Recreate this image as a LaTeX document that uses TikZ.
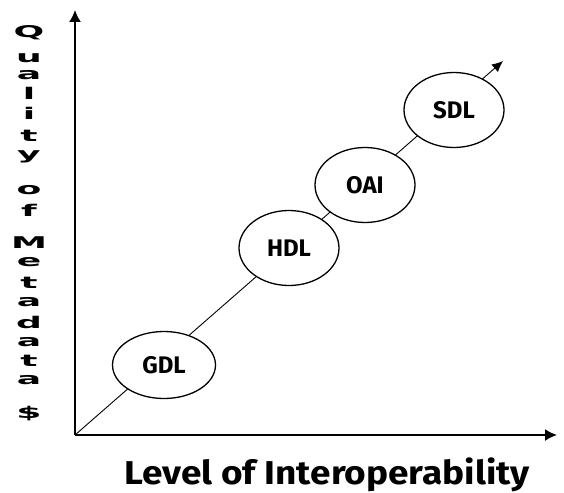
\documentclass[tikz,border=0pt]{standalone}
\usepackage{fontspec}
\setmainfont{Fira Sans}
\newfontfamily\heavyfont{DejaVu Sans}
\usetikzlibrary{positioning,shapes.geometric,arrows.meta}
\tikzset{
  stage/.style={ellipse, draw, line width=1.3pt, fill=white, minimum width=100pt, minimum height=75pt, inner sep=0pt, font=\fontsize{24}{26}\selectfont\bfseries},
  ylab/.style={inner sep=0pt, font=\heavyfont\fontsize{19}{19}\selectfont\bfseries}
}

\begin{document}
\begin{tikzpicture}[x=1pt, y=-1pt, >={Latex[length=12pt,width=12pt]}]
\useasboundingbox (0,0) rectangle (564,492);
% axes
\coordinate (o) at (75,435);
\coordinate (ytop) at (75,10);
\coordinate (xend) at (557,435);
\coordinate (tip) at (503,61);
\draw[->, line width=1.6pt] (o) -- (ytop);
\draw[->, line width=1.6pt] (o) -- (xend);
\draw[->, >={Latex[length=11pt,width=10pt]}, line width=0.9pt] (o) -- (tip);

% stages
\node[stage, minimum width=103pt, minimum height=67pt] (gdl) at (164,365) {GDL};
\node[stage] (hdl) at (289,248) {HDL};
\node[stage] (oai) at (365,185) {OAI};
\node[stage] (sdl) at (454,110) {SDL};

% labels
\node[anchor=base, inner sep=0pt, font=\fontsize{33}{33}\selectfont\bfseries] (xlab) at (327,484) {\scalebox{1.12}[1]{Level of Interoperability}};
\foreach \ch/\yy in {Q/33,u/58,a/75,l/93,i/113,t/136,y/157,o/190,f/210,M/243,e/262,t/283,a/302,d/322,a/342,t/361,a/380,\$/414}
  \node[ylab] (y\yy) at (29,\yy) {\scalebox{1.9}[0.85]{\ch}};
\end{tikzpicture}
\end{document}
